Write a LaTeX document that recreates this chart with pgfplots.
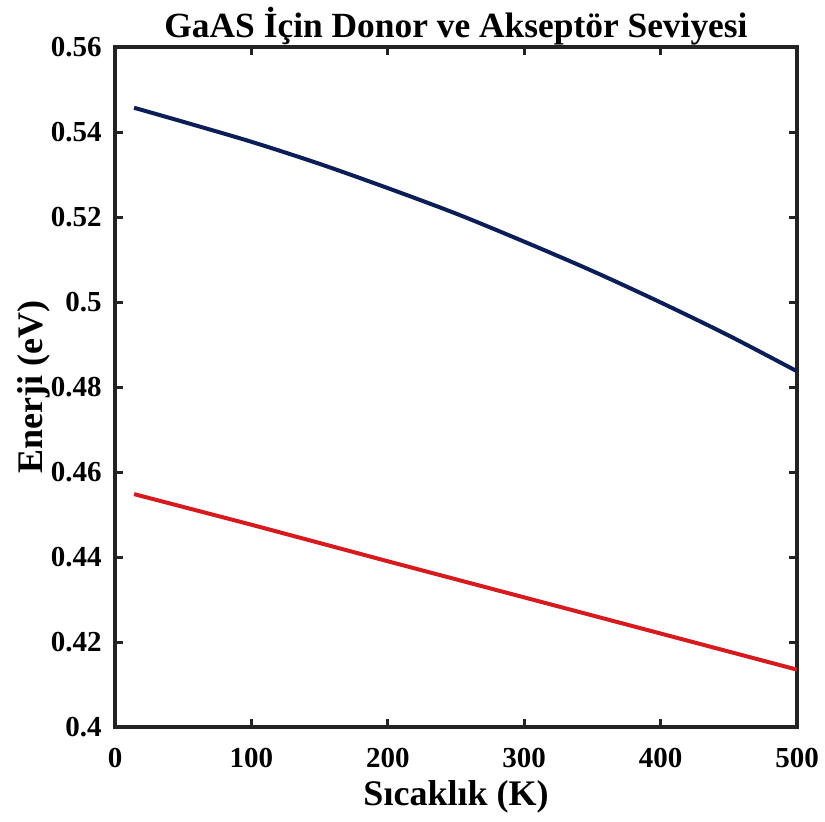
\documentclass[border=0pt]{standalone}
\usepackage{pgfplots}
\pgfplotsset{compat=1.18}
\usepackage{fontspec}
\setmainfont{Liberation Serif}
\definecolor{navy}{RGB}{12,30,88}
\definecolor{lred}{RGB}{214,26,30}
\definecolor{axgray}{RGB}{35,35,35}
\begin{document}
\begin{tikzpicture}
\begin{axis}[
  scale only axis, width=341pt, height=340pt,
  xmin=0, xmax=500, ymin=0.4, ymax=0.56,
  xtick={0,100,200,300,400,500},
  ytick={0.4,0.42,0.44,0.46,0.48,0.5,0.52,0.54,0.56},
  yticklabels={0.4,0.42,0.44,0.46,0.48,0.5,0.52,0.54,0.56},
  xticklabels={0,100,200,300,400,500},
  tick align=inside, major tick length=4pt,
  xtick pos=both, ytick pos=both,
  axis line style={line width=1.8pt, color=axgray},
  every tick/.style={line width=1.5pt, color=axgray},
  tick label style={font=\bfseries\fontsize{14.5}{16}\selectfont, text=black},
  xticklabel style={anchor=base, yshift=-20pt},
  yticklabel style={anchor=east, inner xsep=0pt, xshift=-6.5pt},
  /pgf/number format/assume math mode=true,
  title={GaAS İçin Donor ve Akseptör Seviyesi},
  title style={font=\bfseries\fontsize{17.7}{20}\selectfont, at={(axis description cs:0.5,1.0147)}, anchor=base, yshift=-6pt},
  xlabel={Sıcaklık (K)},
  xlabel style={font=\bfseries\fontsize{18}{20}\selectfont, at={(axis description cs:0.5,-0.1147)}, anchor=base},
  ylabel={Enerji (eV)},
  ylabel style={font=\bfseries\fontsize{18}{20}\selectfont, at={(axis description cs:-0.1056,0.5)}, anchor=base},
]
\addplot[color=navy, line width=2pt, smooth] coordinates {
(14,0.5457) (50,0.5424) (100,0.5377) (150,0.5325) (200,0.5268) (250,0.5208)
(300,0.5142) (350,0.5073) (400,0.4999) (450,0.4921) (500,0.4837)
};
\addplot[color=lred, line width=2pt] coordinates {
(14,0.4548) (100,0.4476) (200,0.4390) (300,0.4305) (400,0.4220) (500,0.4135)
};
\end{axis}
\pgfresetboundingbox
\path ([shift={(-57.5pt,-47pt)}]current axis.south west) rectangle ([shift={(14pt,23.5pt)}]current axis.north east);
\end{tikzpicture}
\end{document}
